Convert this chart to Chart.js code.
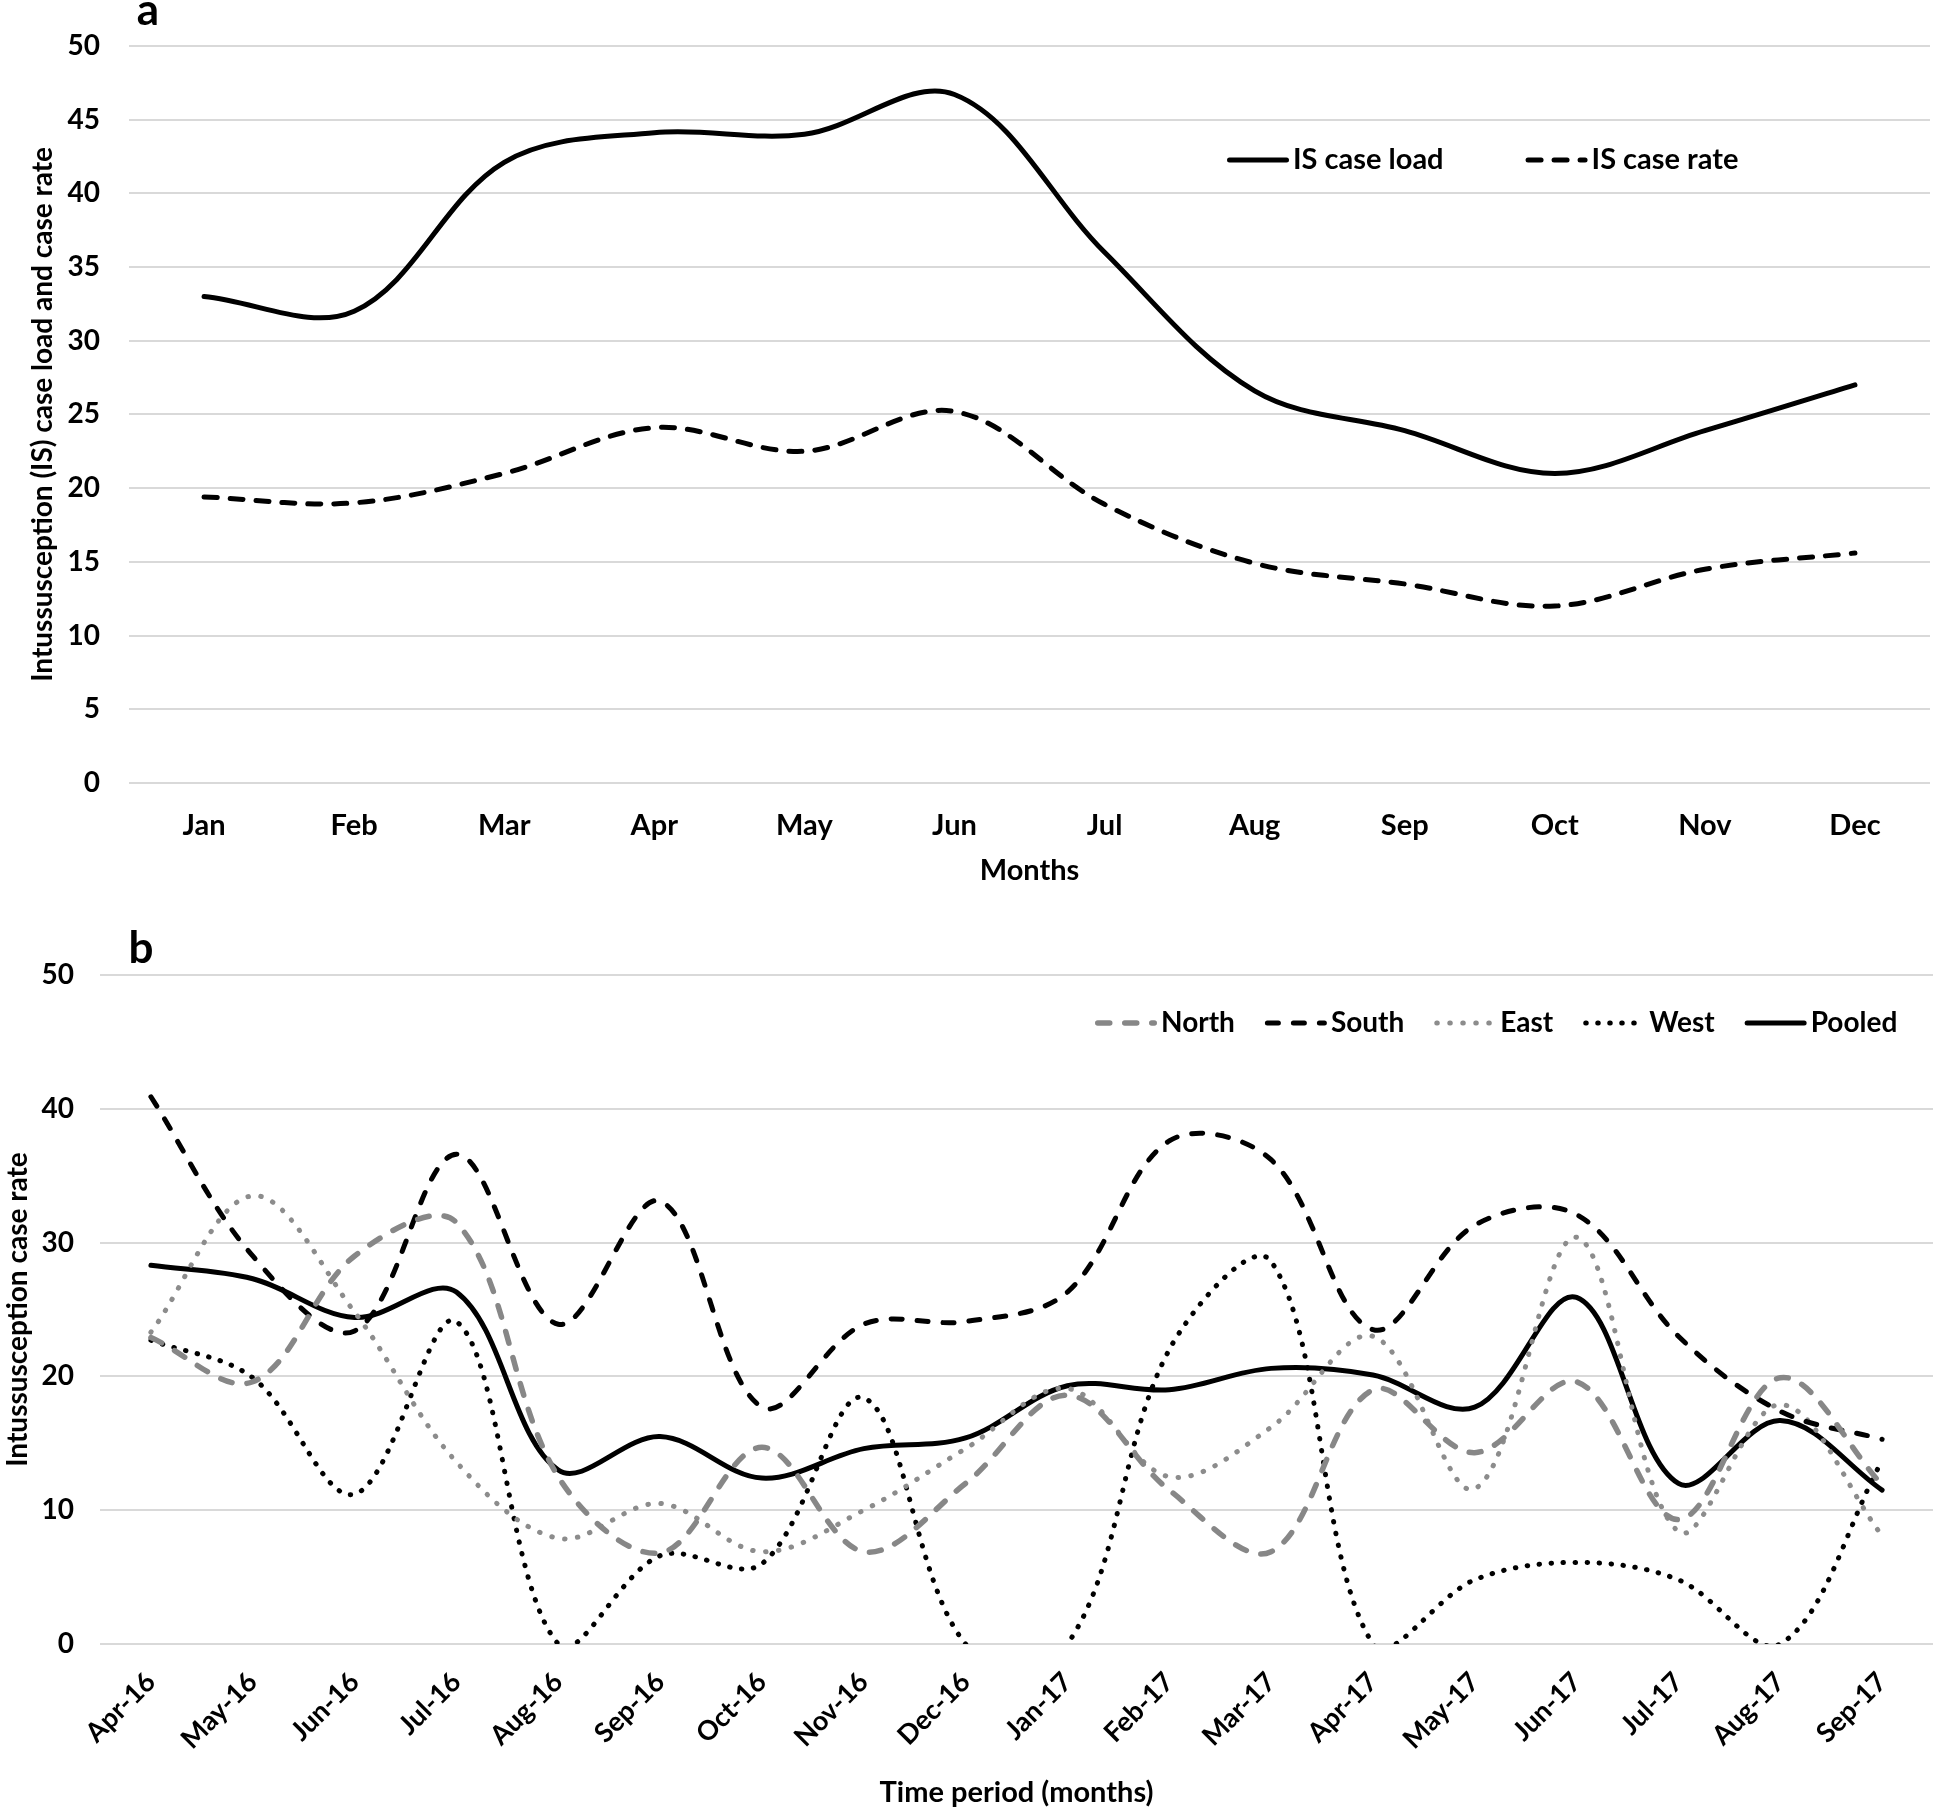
<!DOCTYPE html>
<html>
<head>
<meta charset="utf-8">
<script src="https://cdn.jsdelivr.net/npm/chart.js@4.4.1/dist/chart.umd.min.js"></script>
<style>
  html, body { margin: 0; padding: 0; background: #fff; }
  #wrapA { position: absolute; left: 0; top: 0; width: 1946px; height: 900px; }
  #wrapB { position: absolute; left: 0; top: 900px; width: 1946px; height: 918px; }
</style>
</head>
<body>
<div id="wrapA"><canvas id="chartA"></canvas></div>
<div id="wrapB"><canvas id="chartB"></canvas></div>
<script>
// panel a: monthly values
var months = ['Jan', 'Feb', 'Mar', 'Apr', 'May', 'Jun', 'Jul', 'Aug', 'Sep', 'Oct', 'Nov', 'Dec'];
var caseLoad = [33.0, 32.0, 42.1, 44.1, 44.0, 46.7, 36.0, 26.6, 23.9, 21.0, 23.9, 27.0];
var caseRate = [19.4, 19.0, 21.0, 24.1, 22.5, 25.2, 18.9, 14.9, 13.5, 12.0, 14.5, 15.6];

// panel b: case rate by region
var periods = ['Apr-16', 'May-16', 'Jun-16', 'Jul-16', 'Aug-16', 'Sep-16', 'Oct-16', 'Nov-16', 'Dec-16',
  'Jan-17', 'Feb-17', 'Mar-17', 'Apr-17', 'May-17', 'Jun-17', 'Jul-17', 'Aug-17', 'Sep-17'];
var north  = [22.9, 19.6, 29.0, 31.5, 12.5, 6.8, 14.7, 6.9, 12.0, 18.6, 11.5, 6.9, 19.0, 14.3, 19.6, 9.3, 19.9, 11.9];
var south  = [40.9, 29.0, 23.4, 36.6, 23.9, 33.1, 17.7, 23.9, 24.1, 26.3, 37.6, 36.2, 23.5, 31.3, 32.1, 23.0, 17.4, 15.3];
var east   = [23.3, 33.5, 24.8, 13.6, 7.9, 10.5, 6.9, 10.0, 14.6, 19.1, 12.5, 16.2, 23.0, 11.6, 30.4, 8.4, 17.9, 8.1];
var west   = [22.7, 19.9, 11.2, 24.1, 0, 6.6, 6.0, 18.4, 0, 0, 22.0, 28.6, 0, 4.8, 6.1, 4.8, 0, 13.7];
var pooled = [28.3, 27.3, 24.4, 26.3, 13.0, 15.5, 12.4, 14.6, 15.4, 19.3, 19.0, 20.6, 20.1, 17.7, 25.9, 12.0, 16.7, 11.5];

var FONT = 'Lato';
Chart.defaults.font.family = FONT;
Chart.defaults.font.weight = 'bold';
Chart.defaults.color = '#000';

// legend drawn as line samples followed by labels
var lineLegend = {
  id: 'lineLegend',
  afterDraw: function (chart, args, opts) {
    var ctx = chart.ctx;
    var x = opts.x;
    ctx.save();
    ctx.font = 'bold ' + opts.size + 'px ' + FONT;
    ctx.textBaseline = 'middle';
    chart.data.datasets.forEach(function (ds) {
      var w = ds.borderWidth;
      var cap = ds.borderCapStyle || 'butt';
      var inset = cap === 'round' ? w / 2 : 0;
      ctx.beginPath();
      ctx.strokeStyle = ds.borderColor;
      ctx.lineWidth = w;
      ctx.lineCap = cap;
      ctx.setLineDash(ds.borderDash || []);
      ctx.moveTo(x + inset, opts.y);
      ctx.lineTo(x + opts.sample - inset, opts.y);
      ctx.stroke();
      ctx.setLineDash([]);
      ctx.fillStyle = '#000';
      ctx.fillText(ds.label, x + opts.sample + opts.gap, opts.y);
      x += opts.sample + opts.gap + ctx.measureText(ds.label).width + opts.spacing;
    });
    ctx.restore();
  }
};

var panelLabel = {
  id: 'panelLabel',
  afterDraw: function (chart, args, opts) {
    var ctx = chart.ctx;
    ctx.save();
    ctx.font = 'bold ' + opts.size + 'px ' + FONT;
    ctx.textAlign = 'center';
    ctx.textBaseline = 'alphabetic';
    ctx.fillStyle = '#000';
    ctx.fillText(opts.text, opts.x, opts.y);
    ctx.restore();
  }
};

function lineSet(label, data, color, width, dash, cap) {
  return {
    label: label,
    data: data,
    borderColor: color,
    backgroundColor: color,
    borderWidth: width,
    borderDash: dash,
    borderCapStyle: cap,
    pointRadius: 0,
    pointHoverRadius: 0,
    fill: false,
    tension: 0.35,
    capBezierPoints: false
  };
}

var ctxA = document.getElementById('chartA');
var chartA = new Chart(ctxA, {
  type: 'line',
  data: {
    labels: months,
    datasets: [
      lineSet('IS case load', caseLoad, '#000', 5, [], 'round'),
      lineSet('IS case rate', caseRate, '#000', 5, [13, 13], 'round')
    ]
  },
  plugins: [lineLegend, panelLabel],
  options: {
    responsive: true,
    maintainAspectRatio: false,
    animation: false,
    events: [],
    layout: { padding: { left: 0, right: 16, top: 41, bottom: 0 } },
    plugins: {
      legend: { display: false },
      tooltip: { enabled: false },
      lineLegend: { x: 1227, y: 160, size: 29, sample: 62, gap: 4, spacing: 82 },
      panelLabel: { text: 'a', x: 148, y: 25, size: 44 }
    },
    scales: {
      x: {
        offset: true,
        grid: { display: false, drawTicks: false },
        border: { display: false },
        ticks: { font: { size: 29, weight: 'bold' }, padding: 25, maxRotation: 0, minRotation: 0 },
        title: { display: true, text: 'Months', font: { size: 29, weight: 'bold' }, padding: { top: 0, bottom: 12 } },
        afterFit: function (s) { s.height = 117; }
      },
      y: {
        min: 0,
        max: 50,
        ticks: { stepSize: 5, font: { size: 28, weight: 'bold' }, padding: 29 },
        grid: { color: '#d9d9d9', lineWidth: 2, drawTicks: false },
        border: { display: false },
        title: { display: true, text: 'Intussusception (IS) case load and case rate', font: { size: 28, weight: 'bold' }, padding: { top: 26, bottom: 0 } },
        afterFit: function (s) { s.width = 129; }
      }
    }
  }
});

var ctxB = document.getElementById('chartB');
var chartB = new Chart(ctxB, {
  type: 'line',
  data: {
    labels: periods,
    datasets: [
      lineSet('North', north, '#878787', 5.5, [12, 15], 'round'),
      lineSet('South', south, '#000', 5, [11, 15], 'round'),
      lineSet('East', east, '#8c8c8c', 5, [0.5, 12.5], 'round'),
      lineSet('West', west, '#000', 5, [0.5, 11.5], 'round'),
      lineSet('Pooled', pooled, '#000', 5, [], 'round')
    ]
  },
  plugins: [lineLegend, panelLabel],
  options: {
    responsive: true,
    maintainAspectRatio: false,
    animation: false,
    events: [],
    layout: { padding: { left: 0, right: 13, top: 75, bottom: 0 } },
    plugins: {
      legend: { display: false },
      tooltip: { enabled: false },
      lineLegend: { x: 1095, y: 123, size: 28, sample: 62, gap: 4, spacing: 30 },
      panelLabel: { text: 'b', x: 141, y: 63, size: 44 }
    },
    scales: {
      x: {
        offset: true,
        grid: { display: false, drawTicks: false },
        border: { display: false },
        ticks: { font: { size: 27, weight: 'bold' }, padding: 22, maxRotation: 45, minRotation: 45 },
        title: { display: true, text: 'Time period (months)', font: { size: 29, weight: 'bold' }, padding: { top: 0, bottom: 8 } },
        afterFit: function (s) { s.height = 174; }
      },
      y: {
        min: 0,
        max: 50,
        ticks: { stepSize: 10, font: { size: 28, weight: 'bold' }, padding: 26 },
        grid: { color: '#d9d9d9', lineWidth: 2, drawTicks: false },
        border: { display: false },
        title: { display: true, text: 'Intussusception case rate', font: { size: 28, weight: 'bold' }, padding: { top: 1, bottom: 0 } },
        afterFit: function (s) { s.width = 100; }
      }
    }
  }
});
</script>
</body>
</html>
